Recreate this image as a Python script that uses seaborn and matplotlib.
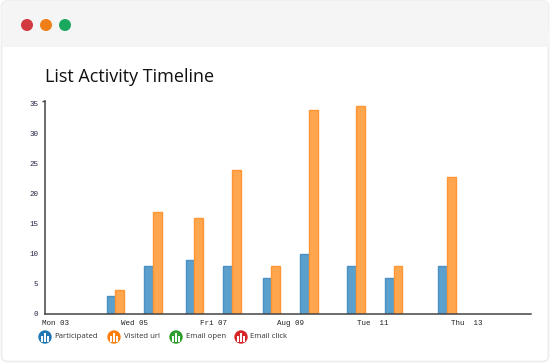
import numpy as np
import pandas as pd
import matplotlib
matplotlib.use('Agg')
import matplotlib.pyplot as plt
from matplotlib.patches import Circle, FancyBboxPatch, Rectangle
import seaborn as sns

W, H = 550, 363

# position in days from Mon 03, the axis is not evenly spaced in the source
days = [1.51, 2.47, 3.52, 4.48, 5.48, 6.44, 7.63, 8.59, 9.95]
participated = [3, 8, 9, 8, 6, 10, 8, 6, 8]
visited_url = [4, 17, 16, 24, 8, 34, 34.6, 8, 22.7]

tick_days = [0, 2.0, 4.0, 5.97, 8.06, 10.46]
tick_labels = ['Mon 03', 'Wed 05', 'Fri 07', 'Aug 09', 'Tue  11', 'Thu  13']
y_ticks = [0, 5, 10, 15, 20, 25, 30, 35]

legend_names = ['Participated', 'Visited url', 'Email open', 'Email click']
legend_colors = ['#1f77b4', '#ff7f0e', '#2ca02c', '#d62728']

df = pd.DataFrame({
    'day': days * 2,
    'value': participated + visited_url,
    'series': ['Participated'] * len(days) + ['Visited url'] * len(days),
})

sns.set_theme(style='white')
fig = plt.figure(figsize=(W / 100, H / 100), dpi=100, facecolor='white')

# backdrop in pixel coordinates
bg = fig.add_axes([0, 0, 1, 1], zorder=0)
bg.set_xlim(0, W)
bg.set_ylim(H, 0)
bg.axis('off')
bg.add_patch(FancyBboxPatch((1.5, 1), W - 3, H - 2.5, boxstyle='round,pad=0,rounding_size=6',
                            fc='white', ec='#ececec', lw=1.2))
bg.add_patch(FancyBboxPatch((1.5, 1), W - 3, 46, boxstyle='round,pad=0,rounding_size=6',
                            fc='#f5f5f5', ec='none'))
bg.add_patch(Rectangle((1.5, 30), W - 3, 17, fc='#f5f5f5', ec='none'))
for cx, c in zip([27, 46, 65], ['#d13b40', '#f07f17', '#1aa85f']):
    bg.add_patch(Circle((cx, 25), 6, fc=c, ec='none'))
bg.text(45, 82, 'List Activity Timeline', family='Open Sans', fontsize=12.95, color='#111111')

# legend
for lx, name, c in zip([45, 114, 176, 241], legend_names, legend_colors):
    bg.add_patch(Circle((lx, 337), 6.7, fc=c, ec='none'))
    for dx, top in zip([-3, 0, 3], [335.5, 333, 335.5]):
        bg.add_patch(Rectangle((lx + dx - 0.75, top), 1.5, 341.5 - top, fc='white', ec='none'))
    bg.text(lx + 9.5, 337, name, family='Open Sans', fontsize=5.6, color='#333333', va='center')

# chart
ax = fig.add_axes([45 / W, 1 - 313.5 / H, (531 - 45) / W, (313.5 - 101) / H], zorder=1)
ax.patch.set_alpha(0)
sns.barplot(data=df, x='day', y='value', hue='series', native_scale=True, width=0.467,
            gap=0, palette=['#5b9fcc', '#ffa64f'], saturation=1, legend=False, ax=ax, errorbar=None)
for bars, edge in zip(ax.containers, ['#4a90c2', '#ff9636']):
    for b in bars:
        b.set_edgecolor(edge)
        b.set_linewidth(1)

ax.set_xlabel('')
ax.set_ylabel('')
ax.set_xticks(tick_days)
ax.set_xticklabels(tick_labels, family='Liberation Mono', fontsize=5.4, color='#222222')
ax.set_yticks(y_ticks)
ax.set_yticklabels(y_ticks, family='Liberation Mono', fontsize=5.4, color='#222244')
# short end marks on the y axis only
ax.set_yticks([0, 212.5 / 6], minor=True)
ax.tick_params(axis='y', which='minor', left=True, length=2.2, width=1, color='#444444')
ax.tick_params(axis='x', length=0, pad=5)
ax.tick_params(axis='y', which='major', length=0, pad=5)
ax.set_xlim((45 - 56) / 39.3, (531 - 56) / 39.3)
ax.set_ylim(0, 212.5 / 6)
sns.despine(ax=ax)
for side in ['left', 'bottom']:
    ax.spines[side].set_color('#444444')
    ax.spines[side].set_linewidth(1.1)

fig.savefig('out.png', dpi=100)
